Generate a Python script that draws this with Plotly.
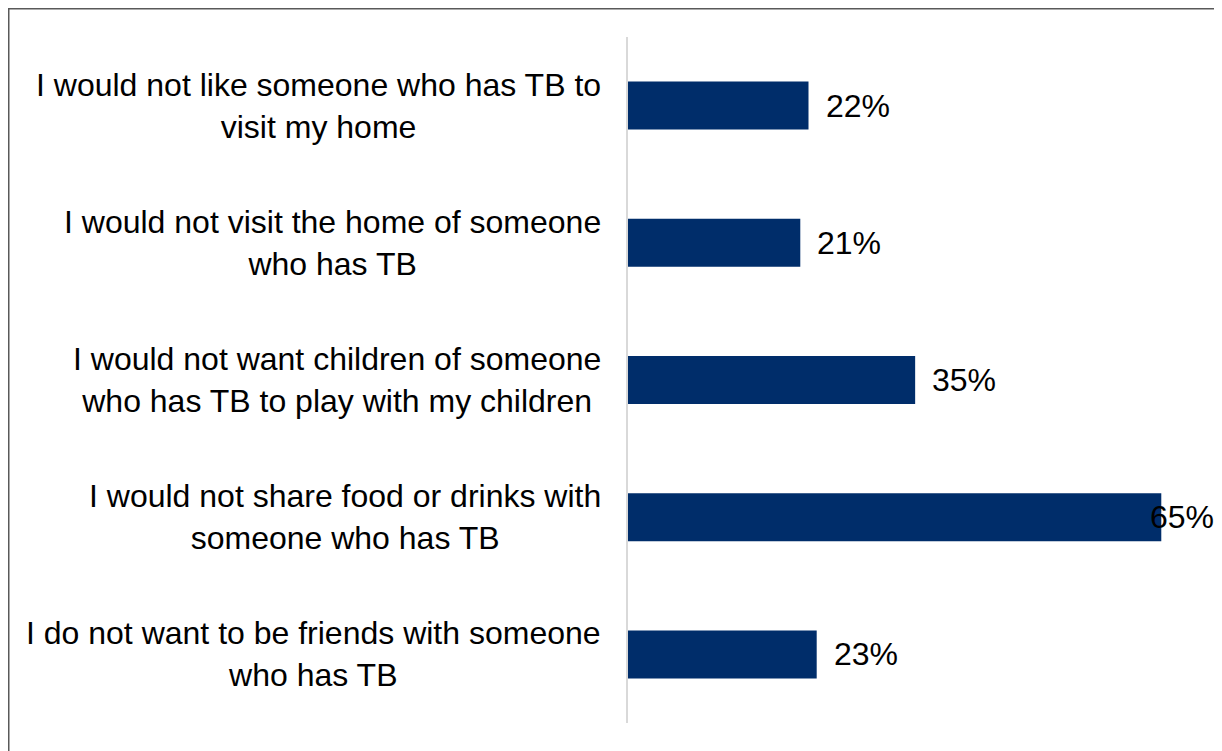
import plotly.graph_objects as go

categories = [
    "I would not like someone who has TB to<br>visit my home",
    "I would not visit the home of someone<br>who has TB",
    "I would not want children of someone<br>who has TB to play with my children",
    "I would not share food or drinks with<br>someone who has TB",
    "I do not want to be friends with someone<br>who has TB",
]
values = [22, 21, 35, 65, 23]
value_labels = ["22%", "21%", "35%", "65%", "23%"]

# page is shown with an 8px body margin, so the figure is sized to fit
W, H = 1214, 743
L, R, T, B = 620, 0, 29, 28
xmax = 72.4
px_per_unit = (W - L - R) / xmax
FONT = dict(family="Liberation Sans, Arial, sans-serif", size=32, color="#000000")

fig = go.Figure()
fig.add_trace(go.Bar(
    y=categories, x=values, orientation="h",
    marker=dict(color="#002D6A", line=dict(width=0)),
    width=0.35, hoverinfo="skip",
))

annotations = []
for c in categories:
    annotations.append(dict(
        x=0, y=c, xref="x", yref="y", text=c, showarrow=False,
        xanchor="right", yanchor="middle", align="center", xshift=-25,
        font=FONT,
    ))
label_w = 74
for c, v, t in zip(categories, values, value_labels):
    bar_end = L + v * px_per_unit
    shift = 15
    if bar_end + shift + label_w > W:
        shift = (W - label_w) - bar_end
    annotations.append(dict(
        x=v, y=c, xref="x", yref="y", text=t, showarrow=False,
        xanchor="left", yanchor="middle", xshift=shift,
        font=FONT,
    ))

pw = W - L - R
ph = H - T - B
def px_x(p):
    return (p - L) / pw
def px_y(p):
    return 1 - (p - T) / ph

shapes = [
    dict(type="line", xref="paper", yref="paper", x0=px_x(0), x1=px_x(W + 5), y0=px_y(0.75), y1=px_y(0.75),
         line=dict(color="#595959", width=1.5)),
    dict(type="line", xref="paper", yref="paper", x0=px_x(0.75), x1=px_x(0.75), y0=px_y(0), y1=px_y(H + 5),
         line=dict(color="#595959", width=1.5)),
]

fig.update_layout(
    width=W, height=H,
    margin=dict(l=L, r=R, t=T, b=B, pad=0),
    paper_bgcolor="white", plot_bgcolor="white",
    showlegend=False,
    xaxis=dict(range=[0, xmax], showgrid=False, zeroline=False, showline=False,
               showticklabels=False, ticks=""),
    yaxis=dict(autorange="reversed", showgrid=False, zeroline=False, showticklabels=False,
               ticks="", showline=True, linecolor="#D9D9D9", linewidth=2),
    annotations=annotations,
    shapes=shapes,
)

fig.write_html("out.html")
